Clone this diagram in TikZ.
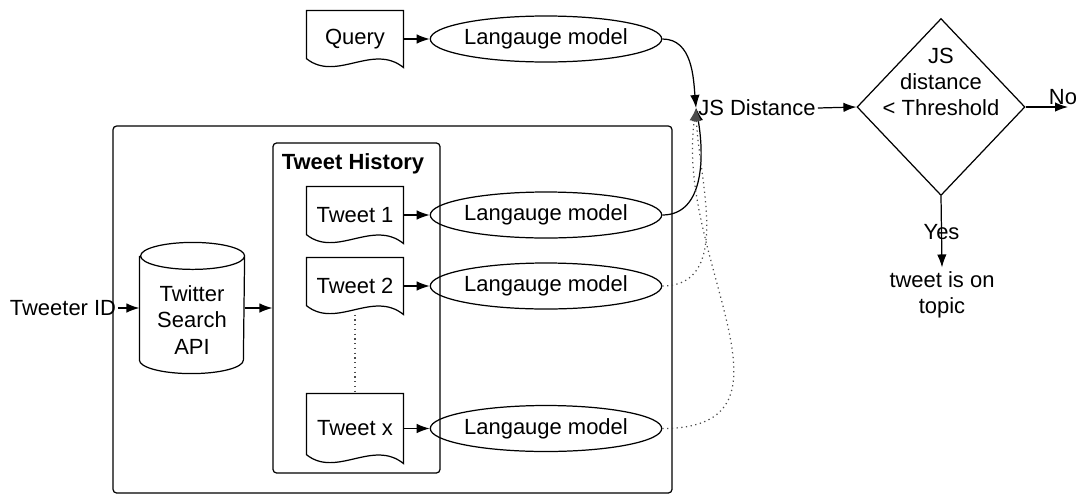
\documentclass[tikz,border=0pt]{standalone}
\usepackage{fontspec}
\setmainfont{Liberation Sans}
\usetikzlibrary{arrows.meta,shapes.geometric,positioning}

\begin{document}
\begin{tikzpicture}[x=0.02cm,y=-0.02cm,line width=0.7pt,
  font=\fontsize{12.5}{15}\selectfont,
  >={Latex[length=2.6mm,width=1.9mm]},
  doc/.style={minimum width=1.92cm,minimum height=1.12cm,inner sep=0pt},
  lm/.style={draw,ellipse,minimum width=4.32cm,minimum height=0.92cm,inner sep=0pt},
  frame/.style={draw,rounded corners=2pt,inner sep=0pt},
  dots/.style={dotted,black!70}]
\useasboundingbox (0,0) rectangle (1081,494);
\node[frame,minimum width=11.18cm,minimum height=7.34cm] (outer) at (392.5,309.5) {};
\node[frame,minimum width=3.34cm,minimum height=6.6cm] (hist) at (356.5,308) {};
\node[font=\fontsize{12.5}{15}\selectfont\bfseries] (histtitle) at (353,164) {Tweet History};
\node[doc] (query) at (355,39) {Query};
\node[doc] (tw1) at (355,215) {Tweet 1};
\node[doc] (tw2) at (355,286) {Tweet 2};
\node[doc,minimum height=1.38cm] (twx) at (355,428.5) {Tweet x};
\foreach \n in {query,tw1,tw2,twx}
  \draw ([yshift=0.18cm]\n.south west) -- (\n.north west) -- (\n.north east) -- (\n.south east)
    .. controls ([xshift=-0.62cm,yshift=0.5cm]\n.south east) and ([xshift=0.6cm,yshift=-0.3cm]\n.south west) .. ([yshift=0.18cm]\n.south west) -- cycle;
\node[minimum width=2.08cm,minimum height=2.6cm,inner sep=0pt] (api) at (192,308) {};
\draw ([yshift=-0.27cm]api.north west) -- ([yshift=0.27cm]api.south west)
  arc[start angle=180,end angle=360,x radius=1.04cm,y radius=0.27cm] -- ([yshift=-0.27cm]api.north east)
  arc[start angle=0,end angle=360,x radius=1.04cm,y radius=0.27cm];
\node[align=center] (apitext) at (192,320) {Twitter\\Search\\API};
\node[inner sep=1pt] (tid) at (63,308) {Tweeter ID};
\draw[->] (tid.east) -- (api.west);
\draw[->] (api.east) -- (api.east -| hist.west);
\node[lm] (lmq) at (546,39) {Langauge model};
\node[lm] (lm1) at (546,215) {Langauge model};
\node[lm] (lm2) at (546,286) {Langauge model};
\node[lm] (lmx) at (546,428.5) {Langauge model};
\foreach \a/\b in {query/lmq,tw1/lm1,tw2/lm2,twx/lmx}
  \draw[->] (\a) -- (\b);
\draw[dots] (tw2.south) -- (twx.north);
\node[inner sep=1pt] (jsd) at (757,108) {JS Distance};
\draw[->] (lmq.east) to[out=0,in=95] (jsd.west);
\draw[->] (lm1.east) to[out=0,in=-80] (jsd.west);
\draw[->,dots] (lm2.east) to[out=0,in=-88] (jsd.west);
\draw[->,dots] (lmx.east) to[out=0,in=-98,looseness=1.2] (jsd.west);
\node[draw,diamond,minimum width=3.36cm,minimum height=3.54cm,inner sep=0pt] (dec) at (941,107) {};
\node[align=center] (dectext) at (941,82) {JS\\distance\\< Threshold};
\draw[->] (jsd.east) -- (dec.west);
\coordinate (noend) at (1068,107);
\draw[->] (dec.east) -- (noend);
\node (no) at (1063,97) {No};
\node[align=center,inner sep=2pt] (topic) at (942,295) {tweet is on\\topic};
\draw[->] (dec.south) -- (topic.north) node[midway] {Yes};
\end{tikzpicture}
\end{document}
